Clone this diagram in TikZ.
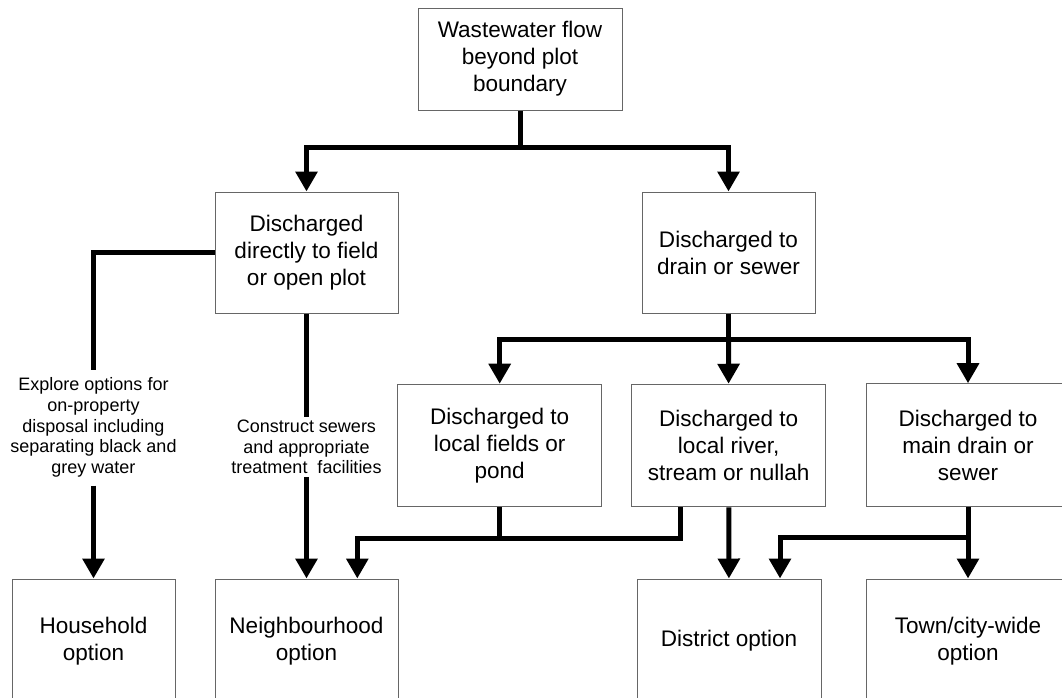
\documentclass[tikz,border=0pt]{standalone}
\usepackage{fontspec}
\setmainfont{Liberation Sans}
\usetikzlibrary{calc,arrows.meta}

\tikzset{
  box/.style={draw=black!60, line width=0.75pt, align=center, inner sep=0pt,
    font=\fontsize{16.9}{20.25}\selectfont},
  note/.style={align=center, inner xsep=0pt, font=\fontsize{13.5}{15.5}\selectfont},
  pipe/.style={line width=3.75pt},
  flow/.style={pipe, -{Triangle[length=15pt,width=16pt]}},
}

\begin{document}
\begin{tikzpicture}[x=0.75pt,y=-0.75pt] % 1 einheit = 1 pixel
\useasboundingbox (0,0) rectangle (1062,697);
\clip (0,0) rectangle (1062,697);

%EBENE NR. 0 (von oben)
\node[box, minimum width=153pt, minimum height=76.5pt] (top) at (520,59)
  {Wastewater flow\\beyond plot\\boundary};
\coordinate (splitA) at (520,147);

%EBENE NR. 1 (von oben)
\node[box, minimum width=137.25pt, minimum height=90.75pt] (direct) at (306.5,252.5)
  {Discharged\\directly to field\\or open plot};
\node[box, minimum width=129.75pt, minimum height=90.75pt] (drain) at (728.5,252.5)
  {Discharged to\\drain or sewer};
\coordinate (splitB) at (728.5,339);

%BESCHRIFTUNGEN AN DEN LEITUNGEN
\node[note, inner ysep=6pt] (explore) at (93.5,427.5)
  {Explore options for\\on-property\\disposal including\\separating black and\\grey water};
\node[note, inner ysep=2pt] (construct) at (306.5,447)
  {Construct sewers\\and appropriate\\treatment\ \ facilities};

%EBENE NR. 2 (von oben)
\node[box, minimum width=153pt, minimum height=91.9pt] (fields) at (499.7,445.5)
  {Discharged to\\local fields or\\pond};
\node[box, minimum width=145.5pt, minimum height=91.9pt] (river) at (728.7,445.5)
  {Discharged to\\local river,\\stream or nullah};
\node[box, minimum width=153pt, minimum height=91.9pt] (maindrain) at (968,445)
  {Discharged to\\main drain or\\sewer};
\coordinate (mergeA) at (499.7,538.3);
\coordinate (mergeB) at (968,537.5);

%EBENE NR. 3 (von oben)
\node[box, minimum width=122.25pt, minimum height=93pt] (household) at (93.5,641)
  {Household\\option};
\node[box, minimum width=137.25pt, minimum height=93pt] (neighbourhood) at (306.5,641)
  {Neighbourhood\\option};
\node[box, minimum width=138pt, minimum height=93pt] (district) at (729,641)
  {District option};
\node[box, minimum width=153pt, minimum height=93pt] (town) at (968,641)
  {Town/city-wide\\option};

%LEITUNGEN
\draw[pipe] (top) -- (splitA);
\draw[flow] (splitA) -| (direct);
\draw[flow] (splitA) -| (drain);

\draw[pipe] (direct.west) -| (explore.north);
\draw[flow] (explore.south) -- (household.north);
\draw[pipe] (direct) -- (construct);
\draw[flow] (construct) -- (neighbourhood);

\draw[pipe] (drain) -- (splitB);
\draw[flow] (splitB) -| (fields);
\draw[flow] (splitB) -- (river);
\draw[flow] (splitB) -| (maindrain);

\draw[pipe] (fields) -- (mergeA);
\draw[flow] ($(river.south)+(-48.7,0)$) |- (mergeA) -| ($(neighbourhood.north)+(50.8,0)$);
\draw[flow] (river) -- (district);
\draw[flow] (maindrain) -- (town);
\draw[flow] (mergeB) -| ($(district.north)+(51,0)$);

\end{tikzpicture}
\end{document}
